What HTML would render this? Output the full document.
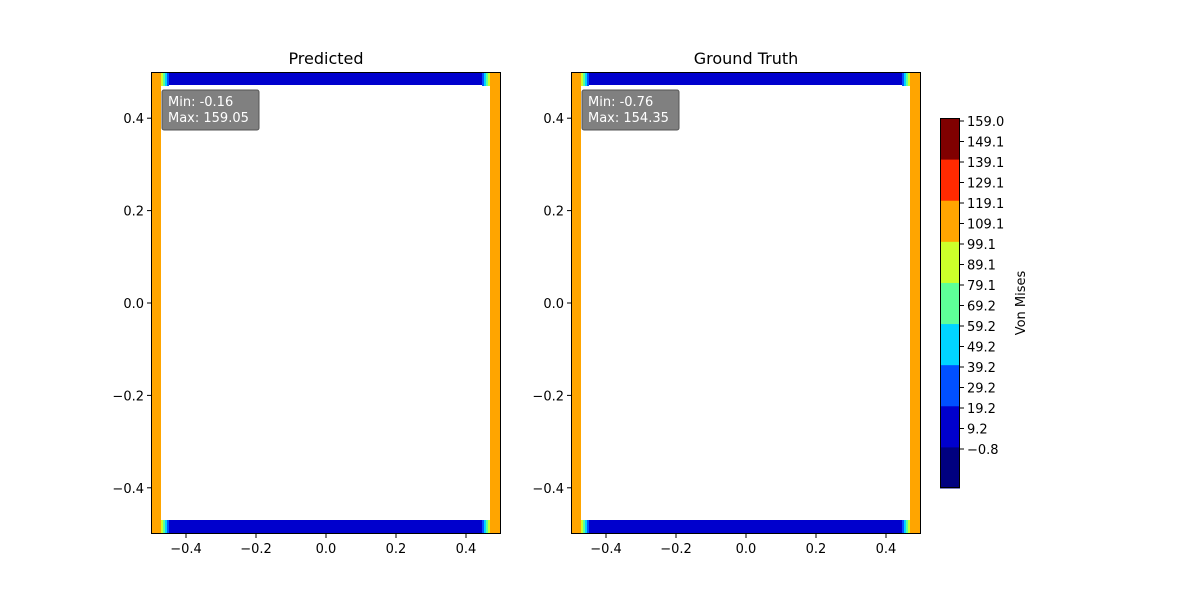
<!DOCTYPE html>
<html><head><meta charset="utf-8"><style>
body{margin:0;background:#fff;font-family:"Liberation Sans","DejaVu Sans",sans-serif}
</style></head><body>
<svg id="fig" width="1200" height="600" xmlns="http://www.w3.org/2000/svg" font-family="DejaVu Sans, Liberation Sans, sans-serif"></svg>
<script>
const xTicks=[-0.4,-0.2,0.0,0.2,0.4];
const yTicks=[0.4,0.2,0.0,-0.2,-0.4];
const panelTitles=["Predicted","Ground Truth"];
const panelMin=["-0.16","-0.76"];
const panelMax=["159.05","154.35"];
const cbarColors=["#000080","#0000cd","#0050ff","#00d4ff","#5eff98","#ccff2a","#ffa500","#ff2a00","#800000"];
const cbarTicks=["\u22120.8","9.2","19.2","29.2","39.2","49.2","59.2","69.2","79.1","89.1","99.1","109.1","119.1","129.1","139.1","149.1","159.0"];
const NS="http://www.w3.org/2000/svg";
const svgEl=document.getElementById('fig');
function mk(t,a,p){const e=document.createElementNS(NS,t);for(const k in a)e.setAttribute(k,a[k]);(p||svgEl).appendChild(e);return e;}
const panels=[151,571], topY=72, botY=534, W=350;
panels.forEach((x0,i)=>{
  const g=mk('g',{});
  
  
  const sx=v=>x0+(v+0.5)*W, sy=v=>botY-(v+0.5)*(botY-topY);
  mk('rect',{x:x0,y:topY,width:W,height:botY-topY,fill:'#fff'},g);
  mk('rect',{x:x0,y:topY,width:10,height:botY-topY,fill:'#ffa500'},g);
  mk('rect',{x:x0+W-11,y:topY,width:11,height:botY-topY,fill:'#ffa500'},g);
  mk('rect',{x:x0+10,y:topY,width:W-21,height:13,fill:'#0000cd'},g);
  mk('rect',{x:x0+10,y:botY-14,width:W-21,height:14,fill:'#0000cd'},g);
  // corner transitions
  const grad=['#ccff2a','#5eff98','#00d4ff','#0050ff'];
  [[x0+10,topY,1],[x0+W-11,topY,-1],[x0+10,botY-14,1],[x0+W-11,botY-14,-1]].forEach(([cx,cy,d])=>{
    grad.forEach((c,k)=>{const xx=d>0?cx+k*2:cx-(k+1)*2;mk('rect',{x:xx,y:cy,width:2,height:14,fill:c},g);});
  });
  mk('rect',{x:x0+0.5,y:topY+0.5,width:W-1,height:botY-topY-1,fill:'none',stroke:'#000','stroke-width':1},g);
  const tt=mk('text',{x:x0+W/2,y:64,'text-anchor':'middle','font-size':16},g);tt.textContent=panelTitles[i];
  
  
  xTicks.forEach(v=>{const x=sx(v);mk('line',{x1:x,x2:x,y1:botY,y2:botY+4,stroke:'#000'},g);
    const l=mk('text',{x:x,y:botY+19,'text-anchor':'middle','font-size':13},g);l.textContent=(v<0?'\u2212':'')+Math.abs(v).toFixed(1);});
  yTicks.forEach(v=>{const y=sy(v);mk('line',{x1:x0-4,x2:x0,y1:y,y2:y,stroke:'#000'},g);
    const l=mk('text',{x:x0-7,y:y+5,'text-anchor':'end','font-size':13},g);l.textContent=(v<0?'\u2212':'')+Math.abs(v).toFixed(1);});
  const bx=mk('g',{},g);
  
  
  mk('rect',{x:x0+11,y:90,width:97,height:40,rx:2,fill:'#808080',stroke:'#555'},bx);
  const a=mk('text',{x:x0+17,y:106,'font-size':13,fill:'#fff'},bx);a.textContent='Min: '+panelMin[i];
  const b=mk('text',{x:x0+17,y:122,'font-size':13,fill:'#fff'},bx);b.textContent='Max: '+panelMax[i];
});
const cb=mk('g',{});


const cT=118,cB=488,cX=940,cW=20,bh=(cB-cT)/cbarColors.length;
cbarColors.forEach((c,k)=>mk('rect',{x:cX,y:cB-(k+1)*bh,width:cW,height:bh+0.5,fill:c},cb));
mk('rect',{x:cX+0.5,y:cT+0.5,width:cW-1,height:cB-cT-1,fill:'none',stroke:'#000'},cb);
const tStep=20.5, t0=449;
cbarTicks.forEach((s,k)=>{const y=t0-k*tStep;mk('line',{x1:cX+cW,x2:cX+cW+4,y1:y,y2:y,stroke:'#000'},cb);
  const l=mk('text',{x:cX+cW+7,y:y+5,'font-size':13},cb);l.textContent=s;});
const vl=mk('text',{x:1025,y:303,'font-size':13,'text-anchor':'middle',transform:'rotate(-90 1025 303)'},cb);vl.textContent='Von Mises';


</script>
</body></html>
